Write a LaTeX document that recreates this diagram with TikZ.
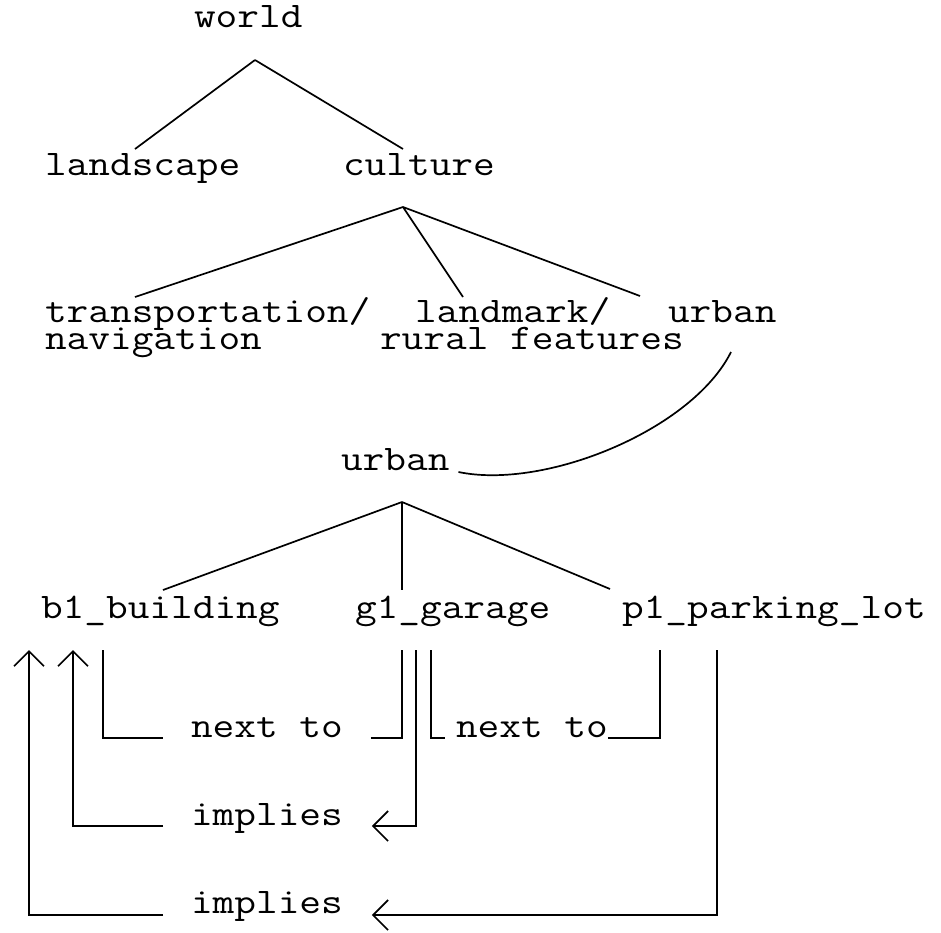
\documentclass[tikz,border=0pt]{standalone}
\usepackage{fontspec}
\setmonofont{Latin Modern Mono}[FakeStretch=1.17]
\usetikzlibrary{calc,arrows.meta}
% typewriter label font; baselines always 27pt apart
\newcommand\labelfont{\ttfamily\fontsize{36}{27}\selectfont\setlength{\lineskiplimit}{-30pt}}

\begin{document}
\begin{tikzpicture}[
  x=1pt, y=-1pt,
  line width=1.7pt,
  lbl/.style={anchor=base west, inner sep=0pt, outer sep=0pt, font=\labelfont},
  arr/.style={-{Straight Barb[length=15pt,width=30pt,line width=1.7pt]}}
]
\useasboundingbox (0,0) rectangle (941,932);

% ---- labels (two-line labels are placed by their last line) ----
\node[lbl] (world)     at (194,27)  {world};
\node[lbl] (landscape) at (45,175)  {landscape};
\node[lbl] (culture)   at (343,175) {culture};
\node[lbl, align=left] (transport) at (45,349)  {transportation/\\navigation};
\node[lbl, align=left] (landmark)  at (380,349) {\hspace*{35pt}landmark/\\rural features};
\node[lbl] (urbantop)  at (668,322) {urban};
\node[lbl] (urban)     at (341,470) {urban};
\node[lbl] (b1)        at (41,618)  {b1\_building};
\node[lbl] (g1)        at (355,618) {g1\_garage};
\node[lbl] (p1)        at (622,618) {p1\_parking\_lot};
\node[lbl] (nextA)     at (191,737) {next to};
\node[lbl] (nextB)     at (456,737) {next to};
\node[lbl] (impA)      at (191,825) {implies};
\node[lbl] (impB)      at (191,913) {implies};

% ---- tree: world ----
\coordinate (wfork) at ($(world.base west)+(61,33)$);
\draw (wfork) -- ($(landscape.base west)+(90,-26)$);
\draw (wfork) -- ($(culture.base west)+(60,-26)$);

% ---- tree: culture ----
\coordinate (cfork) at ($(culture.base west)+(60,32)$);
\draw (cfork) -- ($(transport.base west)+(90,-52)$);
\draw (cfork) -- ($(landmark.base west)+(83,-52)$);
\draw (cfork) -- ($(urbantop.base west)+(-28,-26)$);

% ---- expansion of urban ----
\draw ($(urbantop.base west)+(63,30)$)
      .. controls (692,430) and (545,490) ..
      ($(urban.base east)+(9,2)$);

% ---- tree: urban ----
\coordinate (ufork) at ($(urban.base west)+(61,32)$);
\draw (ufork) -- ($(b1.base west)+(122,-28)$);
\draw (ufork) -- ($(g1.base west)+(47,-28)$);
\draw (ufork) -- ($(p1.base west)+(-12,-29)$);

% ---- relations ----
\draw ($(b1.base west)+(62,32)$) |- ($(nextA.base west)+(-28,1)$);
\draw ($(nextA.base east)+(28,1)$) -| ($(g1.base west)+(47,32)$);
\draw ($(g1.base west)+(76,32)$) |- ($(nextB.base west)+(-11,1)$);
\draw ($(nextB.base east)+(0,1)$) -| ($(p1.base west)+(38,32)$);

\draw[arr] ($(g1.base west)+(61,32)$) |- ($(impA.base east)+(29,1)$);
\draw[arr] ($(impA.base west)+(-28,1)$) -| ($(b1.base west)+(32,32)$);
\draw[arr] ($(p1.base west)+(95,32)$) |- ($(impB.base east)+(29,2)$);
\draw[arr] ($(impB.base west)+(-28,2)$) -| ($(b1.base west)+(-12,32)$);
\end{tikzpicture}
\end{document}
